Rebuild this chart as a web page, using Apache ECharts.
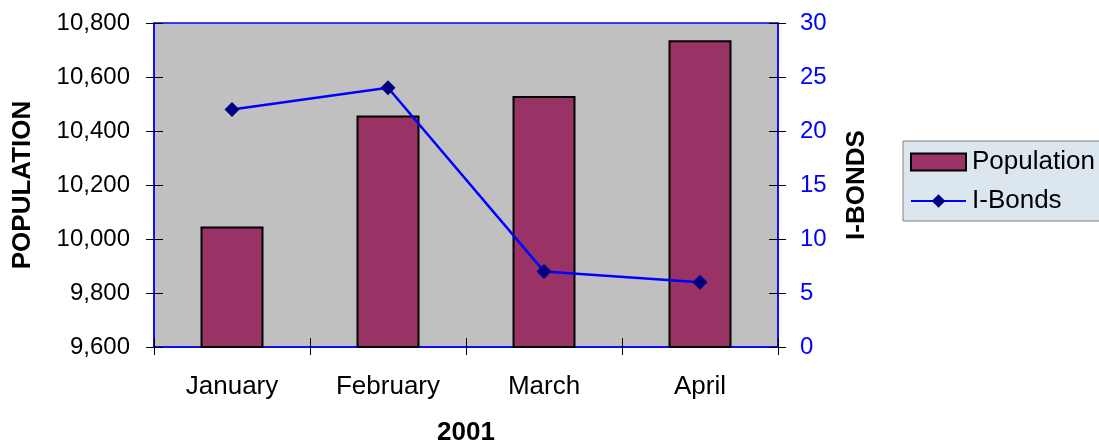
<!DOCTYPE html>
<html><head><meta charset="utf-8">
<script src="https://cdn.jsdelivr.net/npm/echarts@6/dist/echarts.min.js"></script>
<style>html,body{margin:0;padding:0;background:#fff}#c{width:1099px;height:443px}</style>
</head><body><div id="c"></div>
<script>
var categories = ['January', 'February', 'March', 'April'];
var population = [10046, 10457, 10530, 10736];
var iBonds = [22, 24, 7, 6];

var F = 'Arial, "Liberation Sans", sans-serif';
var chart = echarts.init(document.getElementById('c'));
var tickOut = {show: true, inside: false, length: 8, lineStyle: {color: '#000', width: 1}};
var tickIn = {show: true, inside: true, length: 9, lineStyle: {color: '#000', width: 1}};
chart.setOption({
  animation: false,
  grid: {left: 154, right: 321, top: 23, bottom: 96, show: true, backgroundColor: '#c0c0c0',
         borderColor: '#0000ff', borderWidth: 1.5, containLabel: false, outerBoundsMode: 'none'},
  legend: {
    orient: 'vertical', left: 903, top: 141, padding: [8, 20, 7, 7],
    backgroundColor: '#dbe6ef', borderColor: '#808080', borderWidth: 1,
    itemWidth: 55, itemHeight: 17, itemGap: 13,
    textStyle: {fontFamily: F, fontSize: 26, color: '#000', padding: [0, 0, 0, 1]},
    data: [{name: 'Population', icon: 'rect'}, {name: 'I-Bonds'}]
  },
  xAxis: [
    {type: 'category', data: categories, boundaryGap: true,
     axisLine: {show: true, lineStyle: {color: '#0000ff', width: 1.5}},
     axisTick: tickOut,
     axisLabel: {fontFamily: F, fontSize: 26, color: '#000', margin: 27},
     name: '2001', nameLocation: 'middle', nameGap: 73,
     nameTextStyle: {fontFamily: F, fontSize: 26, fontWeight: 'bold', color: '#000'}},
    {type: 'category', data: categories, boundaryGap: true, position: 'bottom',
     axisLine: {show: false}, axisTick: tickIn, axisLabel: {show: false}}
  ],
  yAxis: [
    {type: 'value', min: 9600, max: 10800, interval: 200, position: 'left',
     axisLine: {show: true, lineStyle: {color: '#0000ff', width: 1.5}},
     axisTick: tickOut, splitLine: {show: false},
     axisLabel: {fontFamily: F, fontSize: 24, color: '#000', margin: 24,
       formatter: function (v) { return v.toLocaleString('en-US'); }},
     name: 'POPULATION', nameLocation: 'middle', nameGap: 118, nameRotate: 90,
     nameTextStyle: {fontFamily: F, fontSize: 26, fontWeight: 'bold', color: '#000'}},
    {type: 'value', min: 0, max: 30, interval: 5, position: 'right',
     axisLine: {show: true, lineStyle: {color: '#0000ff', width: 1.5}},
     axisTick: tickOut, splitLine: {show: false},
     axisLabel: {fontFamily: F, fontSize: 24, color: '#0000ff', margin: 22},
     name: 'I-BONDS', nameLocation: 'middle', nameGap: 66, nameRotate: 90,
     nameTextStyle: {fontFamily: F, fontSize: 26, fontWeight: 'bold', color: '#000'}},
    {type: 'value', min: 9600, max: 10800, interval: 200, position: 'left',
     axisLine: {show: false}, axisTick: tickIn, axisLabel: {show: false}, splitLine: {show: false}},
    {type: 'value', min: 0, max: 30, interval: 5, position: 'right',
     axisLine: {show: false}, axisTick: tickIn, axisLabel: {show: false}, splitLine: {show: false}}
  ],
  series: [
    {name: 'Population', type: 'bar', data: population, barWidth: 63, yAxisIndex: 0, xAxisIndex: 0,
     itemStyle: {color: '#993366', borderColor: '#000', borderWidth: 2}},
    {name: 'I-Bonds', type: 'line', data: iBonds, yAxisIndex: 1, xAxisIndex: 0,
     symbol: 'diamond', symbolSize: 15,
     lineStyle: {color: '#0000ff', width: 2.5},
     itemStyle: {color: '#000080', borderWidth: 0}}
  ]
});
</script></body></html>
